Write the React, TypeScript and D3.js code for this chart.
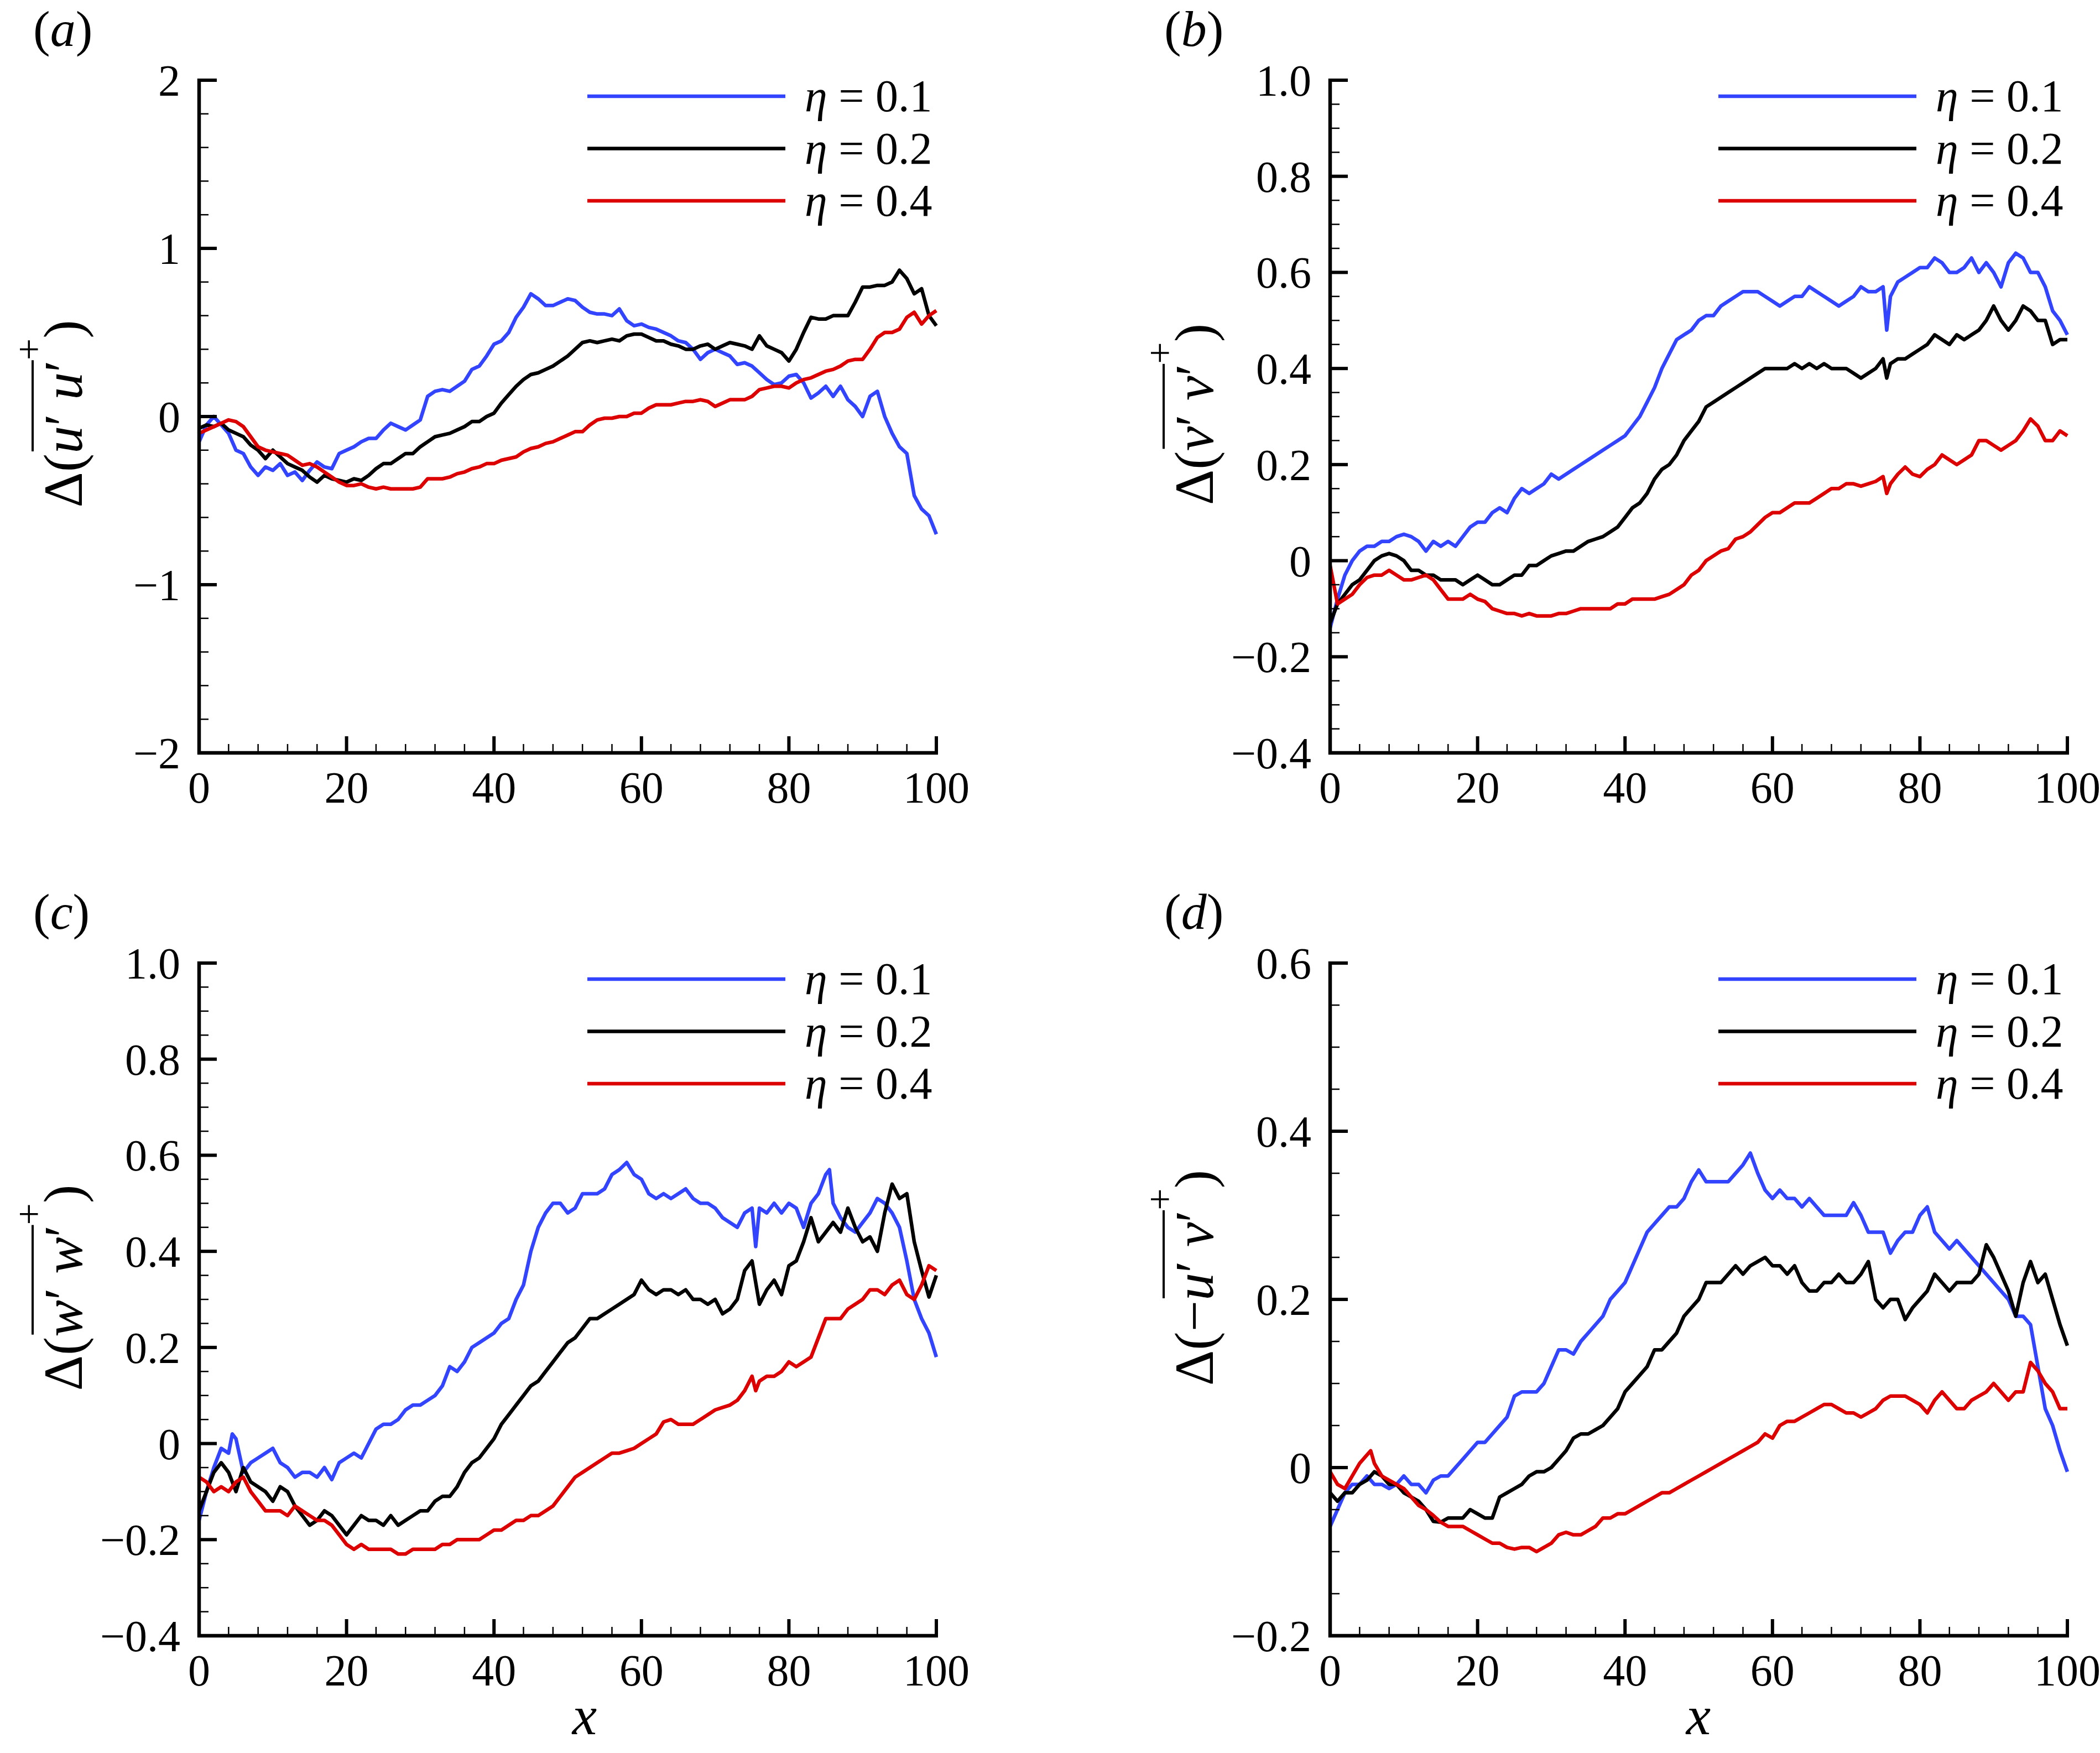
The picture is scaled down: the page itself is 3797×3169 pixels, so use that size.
import { useLayoutEffect, useRef, useState } from "react";
import * as d3 from "d3";

// streamwise positions shared by every series
const X = d3.range(0, 101);

// (a) Δ(u'u')+
const uuEta01 = [
  -0.15, -0.05, 0.0, -0.05, -0.1, -0.2, -0.22, -0.3, -0.35, -0.3,
  -0.32, -0.28, -0.35, -0.33, -0.38, -0.32, -0.27, -0.3, -0.31, -0.22,
  -0.2, -0.18, -0.15, -0.13, -0.13, -0.08, -0.04, -0.06, -0.08, -0.05,
  -0.02, 0.12, 0.15, 0.16, 0.15, 0.18, 0.21, 0.28, 0.3, 0.36,
  0.43, 0.45, 0.5, 0.59, 0.65, 0.73, 0.7, 0.66, 0.66, 0.68,
  0.7, 0.69, 0.65, 0.62, 0.61, 0.61, 0.6, 0.64, 0.57, 0.54,
  0.55, 0.53, 0.52, 0.5, 0.48, 0.45, 0.44, 0.4, 0.34, 0.38,
  0.4, 0.38, 0.36, 0.31, 0.32, 0.3, 0.26, 0.22, 0.19, 0.2,
  0.24, 0.25, 0.2, 0.11, 0.14, 0.18, 0.12, 0.18, 0.1, 0.06,
  0.0, 0.12, 0.15, 0.0, -0.1, -0.18, -0.22, -0.47, -0.55, -0.59,
  -0.7,
];
const uuEta02 = [
  -0.07, -0.05, -0.06, -0.04, -0.08, -0.1, -0.12, -0.17, -0.2, -0.25,
  -0.2, -0.24, -0.28, -0.3, -0.32, -0.36, -0.39, -0.35, -0.37, -0.38,
  -0.39, -0.37, -0.38, -0.35, -0.31, -0.28, -0.28, -0.25, -0.22, -0.22,
  -0.18, -0.15, -0.12, -0.11, -0.1, -0.08, -0.06, -0.03, -0.03, 0.0,
  0.02, 0.08, 0.13, 0.18, 0.22, 0.25, 0.26, 0.28, 0.3, 0.33,
  0.36, 0.4, 0.44, 0.45, 0.44, 0.45, 0.46, 0.45, 0.48, 0.49,
  0.49, 0.47, 0.45, 0.45, 0.43, 0.42, 0.4, 0.4, 0.42, 0.43,
  0.4, 0.42, 0.44, 0.43, 0.42, 0.4, 0.48, 0.42, 0.4, 0.38,
  0.33, 0.4, 0.5, 0.59, 0.58, 0.58, 0.6, 0.6, 0.6, 0.68,
  0.77, 0.77, 0.78, 0.78, 0.8, 0.87, 0.82, 0.73, 0.76, 0.6,
  0.54,
];
const uuEta04 = [
  -0.1, -0.08, -0.06, -0.04, -0.02, -0.03, -0.06, -0.12, -0.18, -0.2,
  -0.21, -0.22, -0.23, -0.26, -0.29, -0.28, -0.3, -0.33, -0.36, -0.39,
  -0.41, -0.41, -0.4, -0.42, -0.43, -0.42, -0.43, -0.43, -0.43, -0.43,
  -0.42, -0.37, -0.37, -0.37, -0.36, -0.34, -0.33, -0.31, -0.3, -0.28,
  -0.28, -0.26, -0.25, -0.24, -0.21, -0.19, -0.18, -0.16, -0.15, -0.13,
  -0.11, -0.09, -0.09, -0.05, -0.02, -0.01, -0.01, 0.0, 0.0, 0.02,
  0.02, 0.05, 0.07, 0.07, 0.07, 0.08, 0.09, 0.09, 0.1, 0.09,
  0.06, 0.08, 0.1, 0.1, 0.1, 0.12, 0.16, 0.17, 0.18, 0.18,
  0.17, 0.2, 0.22, 0.23, 0.25, 0.27, 0.28, 0.3, 0.33, 0.34,
  0.34, 0.4, 0.47, 0.5, 0.5, 0.52, 0.59, 0.62, 0.55, 0.6,
  0.63,
];

// (b) Δ(v'v')+
const vvEta01 = [
  -0.14, -0.08, -0.03, 0.0, 0.02, 0.03, 0.03, 0.04, 0.04, 0.05,
  0.055, 0.05, 0.04, 0.02, 0.04, 0.03, 0.04, 0.03, 0.05, 0.07,
  0.08, 0.08, 0.1, 0.11, 0.1, 0.13, 0.15, 0.14, 0.15, 0.16,
  0.18, 0.17, 0.18, 0.19, 0.2, 0.21, 0.22, 0.23, 0.24, 0.25,
  0.26, 0.28, 0.3, 0.33, 0.36, 0.4, 0.43, 0.46, 0.47, 0.48,
  0.5, 0.51, 0.51, 0.53, 0.54, 0.55, 0.56, 0.56, 0.56, 0.55,
  0.54, 0.53, 0.54, 0.55, 0.55, 0.57, 0.56, 0.55, 0.54, 0.53,
  0.54, 0.55, 0.57, 0.56, 0.56, 0.57, 0.55, 0.58, 0.59, 0.6,
  0.61, 0.61, 0.63, 0.62, 0.6, 0.6, 0.61, 0.63, 0.6, 0.62,
  0.6, 0.57, 0.62, 0.64, 0.63, 0.6, 0.6, 0.57, 0.52, 0.5,
  0.47,
];
const vvEta02 = [
  -0.13, -0.09, -0.07, -0.05, -0.04, -0.02, 0.0, 0.01, 0.015, 0.01,
  0.0, -0.02, -0.02, -0.03, -0.03, -0.04, -0.04, -0.04, -0.05, -0.04,
  -0.03, -0.04, -0.05, -0.05, -0.04, -0.03, -0.03, -0.01, -0.01, 0.0,
  0.01, 0.015, 0.02, 0.02, 0.03, 0.04, 0.045, 0.05, 0.06, 0.07,
  0.09, 0.11, 0.12, 0.14, 0.17, 0.19, 0.2, 0.22, 0.25, 0.27,
  0.29, 0.32, 0.33, 0.34, 0.35, 0.36, 0.37, 0.38, 0.39, 0.4,
  0.4, 0.4, 0.4, 0.41, 0.4, 0.41, 0.4, 0.41, 0.4, 0.4,
  0.4, 0.39, 0.38, 0.39, 0.4, 0.42, 0.41, 0.42, 0.42, 0.43,
  0.44, 0.45, 0.47, 0.46, 0.45, 0.47, 0.46, 0.47, 0.48, 0.5,
  0.53, 0.5, 0.48, 0.5, 0.53, 0.52, 0.5, 0.5, 0.45, 0.46,
  0.46,
];
const vvEta04 = [
  -0.01, -0.09, -0.08, -0.07, -0.05, -0.035, -0.03, -0.03, -0.02, -0.03,
  -0.04, -0.04, -0.035, -0.03, -0.04, -0.06, -0.08, -0.08, -0.08, -0.07,
  -0.08, -0.085, -0.1, -0.105, -0.11, -0.11, -0.115, -0.11, -0.115, -0.115,
  -0.115, -0.11, -0.11, -0.105, -0.1, -0.1, -0.1, -0.1, -0.1, -0.09,
  -0.09, -0.08, -0.08, -0.08, -0.08, -0.075, -0.07, -0.06, -0.05, -0.03,
  -0.02, 0.0, 0.01, 0.02, 0.025, 0.045, 0.05, 0.06, 0.075, 0.09,
  0.1, 0.1, 0.11, 0.12, 0.12, 0.12, 0.13, 0.14, 0.15, 0.15,
  0.16, 0.16, 0.155, 0.16, 0.165, 0.175, 0.16, 0.18, 0.195, 0.18,
  0.175, 0.19, 0.2, 0.22, 0.21, 0.2, 0.21, 0.22, 0.25, 0.25,
  0.24, 0.23, 0.24, 0.25, 0.27, 0.295, 0.28, 0.25, 0.25, 0.27,
  0.26,
];

// (c) Δ(w'w')+
const wwEta01 = [
  -0.16, -0.1, -0.05, -0.01, -0.02, 0.01, -0.06, -0.04, -0.03, -0.02,
  -0.01, -0.04, -0.05, -0.07, -0.06, -0.06, -0.07, -0.05, -0.075, -0.04,
  -0.03, -0.02, -0.03, 0.0, 0.03, 0.04, 0.04, 0.05, 0.07, 0.08,
  0.08, 0.09, 0.1, 0.12, 0.16, 0.15, 0.17, 0.2, 0.21, 0.22,
  0.23, 0.25, 0.26, 0.3, 0.33, 0.4, 0.45, 0.48, 0.5, 0.5,
  0.48, 0.49, 0.52, 0.52, 0.52, 0.53, 0.56, 0.57, 0.585, 0.56,
  0.55, 0.52, 0.51, 0.52, 0.51, 0.52, 0.53, 0.51, 0.5, 0.5,
  0.49, 0.47, 0.46, 0.45, 0.48, 0.49, 0.49, 0.48, 0.5, 0.48,
  0.5, 0.49, 0.45, 0.5, 0.52, 0.56, 0.5, 0.47, 0.45, 0.44,
  0.46, 0.48, 0.51, 0.5, 0.48, 0.45, 0.38, 0.3, 0.26, 0.23,
  0.18,
];
const wwEta02 = [
  -0.14, -0.1, -0.06, -0.04, -0.06, -0.1, -0.05, -0.08, -0.09, -0.1,
  -0.12, -0.09, -0.1, -0.13, -0.15, -0.17, -0.16, -0.14, -0.15, -0.17,
  -0.19, -0.17, -0.15, -0.16, -0.16, -0.17, -0.15, -0.17, -0.16, -0.15,
  -0.14, -0.14, -0.12, -0.11, -0.11, -0.09, -0.06, -0.04, -0.03, -0.01,
  0.01, 0.04, 0.06, 0.08, 0.1, 0.12, 0.13, 0.15, 0.17, 0.19,
  0.21, 0.22, 0.24, 0.26, 0.26, 0.27, 0.28, 0.29, 0.3, 0.31,
  0.34, 0.32, 0.31, 0.32, 0.32, 0.31, 0.32, 0.3, 0.3, 0.29,
  0.3, 0.27, 0.28, 0.3, 0.36, 0.38, 0.29, 0.32, 0.34, 0.31,
  0.37, 0.38, 0.42, 0.47, 0.42, 0.44, 0.46, 0.44, 0.49, 0.45,
  0.42, 0.43, 0.4, 0.48, 0.54, 0.51, 0.52, 0.42, 0.36, 0.305,
  0.35,
];
const wwEta04 = [
  -0.07, -0.08, -0.1, -0.09, -0.1, -0.08, -0.07, -0.1, -0.12, -0.14,
  -0.14, -0.14, -0.15, -0.13, -0.14, -0.15, -0.16, -0.16, -0.17, -0.19,
  -0.21, -0.22, -0.21, -0.22, -0.22, -0.22, -0.22, -0.23, -0.23, -0.22,
  -0.22, -0.22, -0.22, -0.21, -0.21, -0.2, -0.2, -0.2, -0.2, -0.19,
  -0.18, -0.18, -0.17, -0.16, -0.16, -0.15, -0.15, -0.14, -0.13, -0.11,
  -0.09, -0.07, -0.06, -0.05, -0.04, -0.03, -0.02, -0.02, -0.015, -0.01,
  0.0, 0.01, 0.02, 0.045, 0.05, 0.04, 0.04, 0.04, 0.05, 0.06,
  0.07, 0.075, 0.08, 0.09, 0.11, 0.14, 0.13, 0.14, 0.14, 0.15,
  0.17, 0.16, 0.17, 0.18, 0.22, 0.26, 0.26, 0.26, 0.28, 0.29,
  0.3, 0.32, 0.32, 0.31, 0.33, 0.34, 0.31, 0.3, 0.33, 0.37,
  0.36,
];

// (d) Δ(-u'v')+
const uvEta01 = [
  -0.07, -0.05, -0.03, -0.02, -0.02, -0.01, -0.02, -0.02, -0.025, -0.02,
  -0.01, -0.02, -0.02, -0.03, -0.015, -0.01, -0.01, 0.0, 0.01, 0.02,
  0.03, 0.03, 0.04, 0.05, 0.06, 0.085, 0.09, 0.09, 0.09, 0.1,
  0.12, 0.14, 0.14, 0.135, 0.15, 0.16, 0.17, 0.18, 0.2, 0.21,
  0.22, 0.24, 0.26, 0.28, 0.29, 0.3, 0.31, 0.31, 0.32, 0.34,
  0.354, 0.34, 0.34, 0.34, 0.34, 0.35, 0.36, 0.374, 0.35, 0.33,
  0.32, 0.33, 0.32, 0.32, 0.31, 0.32, 0.31, 0.3, 0.3, 0.3,
  0.3, 0.315, 0.3, 0.28, 0.28, 0.28, 0.255, 0.27, 0.28, 0.28,
  0.3, 0.31, 0.28, 0.27, 0.26, 0.27, 0.26, 0.25, 0.24, 0.23,
  0.22, 0.21, 0.2, 0.18, 0.18, 0.17, 0.12, 0.07, 0.05, 0.02,
  -0.005,
];
const uvEta02 = [
  -0.03, -0.04, -0.03, -0.03, -0.02, -0.015, -0.005, -0.01, -0.02, -0.02,
  -0.03, -0.035, -0.04, -0.05, -0.064, -0.065, -0.06, -0.06, -0.06, -0.05,
  -0.055, -0.06, -0.06, -0.035, -0.03, -0.025, -0.02, -0.01, -0.005, -0.005,
  0.0, 0.01, 0.02, 0.035, 0.04, 0.04, 0.045, 0.05, 0.06, 0.07,
  0.09, 0.1, 0.11, 0.12, 0.14, 0.14, 0.15, 0.16, 0.18, 0.19,
  0.2, 0.22, 0.22, 0.22, 0.23, 0.24, 0.23, 0.24, 0.245, 0.25,
  0.24, 0.24, 0.23, 0.24, 0.22, 0.21, 0.21, 0.22, 0.22, 0.23,
  0.22, 0.22, 0.23, 0.245, 0.2, 0.19, 0.2, 0.2, 0.176, 0.19,
  0.2, 0.21, 0.23, 0.22, 0.21, 0.22, 0.22, 0.22, 0.23, 0.265,
  0.25, 0.23, 0.21, 0.18, 0.22, 0.245, 0.22, 0.23, 0.2, 0.17,
  0.145,
];
const uvEta04 = [
  -0.005, -0.02, -0.025, -0.01, 0.005, 0.015, 0.005, -0.01, -0.015, -0.02,
  -0.025, -0.035, -0.045, -0.05, -0.057, -0.065, -0.07, -0.07, -0.07, -0.075,
  -0.08, -0.085, -0.09, -0.09, -0.095, -0.097, -0.095, -0.095, -0.1, -0.095,
  -0.09, -0.08, -0.077, -0.08, -0.08, -0.075, -0.07, -0.06, -0.06, -0.055,
  -0.055, -0.05, -0.045, -0.04, -0.035, -0.03, -0.03, -0.025, -0.02, -0.015,
  -0.01, -0.005, 0.0, 0.005, 0.01, 0.015, 0.02, 0.025, 0.03, 0.04,
  0.035, 0.05, 0.055, 0.055, 0.06, 0.065, 0.07, 0.075, 0.075, 0.07,
  0.065, 0.065, 0.06, 0.065, 0.07, 0.08, 0.085, 0.085, 0.085, 0.08,
  0.075, 0.065, 0.08, 0.09, 0.08, 0.07, 0.07, 0.08, 0.085, 0.09,
  0.1, 0.09, 0.08, 0.09, 0.09, 0.125, 0.115, 0.1, 0.09, 0.07,
  0.07,
];

// narrow spikes that fall between the integer stations
const vvSpike01: [number, number][] = [[75.5, 0.48]];
const vvSpike02: [number, number][] = [[75.5, 0.38]];
const vvSpike04: [number, number][] = [[75.5, 0.14]];
const wwSpike01: [number, number][] = [[4.5, 0.02], [75.5, 0.41], [85.5, 0.57]];
const wwSpike04: [number, number][] = [[75.5, 0.11]];
const uvSpike04: [number, number][] = [[5.5, 0.02]];

const legendLabels = ["0.1", "0.2", "0.4"];
const xTicks = [0, 20, 40, 60, 80, 100];

const COLORS = ["#3344ff", "#000000", "#dd0000"];
const FONT = "'Liberation Serif', 'Times New Roman', serif";

const W = 1333;
const H = 1216;

function merge(vals: number[], extra: [number, number][] = []) {
  const pts: [number, number][] = X.map((xv, i) => [xv, vals[i]] as [number, number]);
  return pts.concat(extra).sort((a, b) => a[0] - b[0]);
}

function steps(lo: number, hi: number, step: number) {
  const n = Math.round((hi - lo) / step);
  return d3.range(n + 1).map((i) => +(lo + i * step).toFixed(6));
}

// rotated y title; the bar over the fluctuation product is measured after layout
function YTitle({ tx, ty, sym, neg }: { tx: number; ty: number; sym: [string, string]; neg?: boolean }) {
  const ref = useRef<SVGTextElement>(null);
  const [bar, setBar] = useState<[number, number] | null>(null);
  const start = neg ? 3 : 2;

  useLayoutEffect(() => {
    const t = ref.current;
    if (!t) return;
    try {
      const a = t.getStartPositionOfChar(start).x;
      const b = t.getEndPositionOfChar(start + 4).x;
      setBar([a + 4, b]);
    } catch (e) {
      setBar(null);
    }
  }, []);

  return (
    <g transform={`translate(${tx},${ty}) rotate(-90)`}>
      <text ref={ref} x={0} y={0} fontSize={100} fontFamily={FONT} textAnchor="middle">
        <tspan>Δ({neg ? "−" : ""}</tspan>
        <tspan fontStyle="italic">{sym[0]}</tspan>
        <tspan>′ </tspan>
        <tspan fontStyle="italic">{sym[1]}</tspan>
        <tspan>′</tspan>
        <tspan dy={-72} fontSize={70}>+</tspan>
        <tspan dy={72}>)</tspan>
      </text>
      {bar && <line x1={bar[0]} x2={bar[1]} y1={-89} y2={-89} stroke="#000" strokeWidth={4} />}
    </g>
  );
}

function Panel(props: any) {
  const { left, top, tag, domain, major, minor, fmt, series, sym, neg, labelY, xLabelX } = props;
  const x = d3.scaleLinear().domain([0, 100]).range([left, left + W]);
  const y = d3.scaleLinear().domain(domain).range([top + H, top]);
  const line = d3
    .line<[number, number]>()
    .x((d) => x(d[0]))
    .y((d) => y(d[1]));

  const yMajor = steps(domain[0], domain[1], major);
  const yMinor = steps(domain[0], domain[1], minor).filter(
    (v) => !yMajor.some((m) => Math.abs(m - v) < 1e-6)
  );
  const xMinor = steps(0, 100, 4).filter((v) => v % 20 !== 0);
  const bottom = top + H;

  return (
    <g>
      <text x={left - 300} y={top - 62} fontSize={92} fontFamily={FONT}>
        (<tspan fontStyle="italic">{tag}</tspan>)
      </text>

      {series.map((pts: [number, number][], i: number) => (
        <path
          key={i}
          d={line(pts) ?? ""}
          fill="none"
          stroke={COLORS[i]}
          strokeWidth={6.5}
          strokeLinejoin="round"
        />
      ))}

      {/* minor ticks */}
      {yMinor.map((v) => (
        <line key={"ym" + v} x1={left} x2={left + 17} y1={y(v)} y2={y(v)} stroke="#000" strokeWidth={2.5} />
      ))}
      {xMinor.map((v) => (
        <line key={"xm" + v} x1={x(v)} x2={x(v)} y1={bottom} y2={bottom - 16} stroke="#000" strokeWidth={2.5} />
      ))}
      {/* major ticks */}
      {yMajor.map((v) => (
        <line key={"yM" + v} x1={left} x2={left + 32} y1={y(v)} y2={y(v)} stroke="#000" strokeWidth={6} />
      ))}
      {xTicks.map((v) => (
        <line key={"xM" + v} x1={x(v)} x2={x(v)} y1={bottom} y2={bottom - 30} stroke="#000" strokeWidth={6} />
      ))}
      {/* axis lines */}
      <line x1={left} x2={left} y1={top - 3} y2={bottom + 3} stroke="#000" strokeWidth={6.5} />
      <line x1={left - 3} x2={left + W + 3} y1={bottom} y2={bottom} stroke="#000" strokeWidth={6.5} />

      {/* tick labels */}
      {yMajor.map((v) => (
        <text key={"yl" + v} x={left - 34} y={y(v) + 28} fontSize={80} fontFamily={FONT} textAnchor="end">
          {fmt(v)}
        </text>
      ))}
      {xTicks.map((v) => (
        <text key={"xl" + v} x={x(v)} y={bottom + 90} fontSize={80} fontFamily={FONT} textAnchor="middle">
          {v}
        </text>
      ))}

      <YTitle tx={left - 212} ty={labelY} sym={sym} neg={neg} />

      {xLabelX != null && (
        <text x={xLabelX} y={3135} fontSize={100} fontFamily={FONT} fontStyle="italic" textAnchor="middle">
          x
        </text>
      )}

      {/* legend */}
      {legendLabels.map((lab, i) => {
        const ly = top + 29 + i * 94.5;
        return (
          <g key={lab}>
            <line x1={left + 702} x2={left + 1060} y1={ly} y2={ly} stroke={COLORS[i]} strokeWidth={6.5} />
            <text x={left + 1095} y={ly + 27} fontSize={82} fontFamily={FONT}>
              <tspan fontStyle="italic">η</tspan> = {lab}
            </text>
          </g>
        );
      })}
    </g>
  );
}

const fmtInt = (v: number) => (v === 0 ? "0" : d3.format("d")(v));
const fmtDec = (v: number) => (v === 0 ? "0" : d3.format(".1f")(v));

export default function App() {
  const panels = [
    {
      left: 360, top: 145, tag: "a", domain: [-2, 2], major: 1, minor: 0.2, fmt: fmtInt,
      series: [merge(uuEta01), merge(uuEta02), merge(uuEta04)],
      sym: ["u", "u"], neg: false, labelY: 748, xLabelX: null,
    },
    {
      left: 2405, top: 145, tag: "b", domain: [-0.4, 1.0], major: 0.2, minor: 0.05, fmt: fmtDec,
      series: [merge(vvEta01, vvSpike01), merge(vvEta02, vvSpike02), merge(vvEta04, vvSpike04)],
      sym: ["v", "v"], neg: false, labelY: 749, xLabelX: null,
    },
    {
      left: 360, top: 1741, tag: "c", domain: [-0.4, 1.0], major: 0.2, minor: 0.05, fmt: fmtDec,
      series: [merge(wwEta01, wwSpike01), merge(wwEta02), merge(wwEta04, wwSpike04)],
      sym: ["w", "w"], neg: false, labelY: 2328, xLabelX: 1057,
    },
    {
      left: 2405, top: 1741, tag: "d", domain: [-0.2, 0.6], major: 0.2, minor: 0.05, fmt: fmtDec,
      series: [merge(uvEta01), merge(uvEta02), merge(uvEta04, uvSpike04)],
      sym: ["u", "v"], neg: true, labelY: 2310, xLabelX: 3071,
    },
  ];

  return (
    <svg
      width={3797}
      height={3169}
      style={{ position: "absolute", left: 0, top: 0, display: "block", background: "#fff" }}
    >
      <rect width={3797} height={3169} fill="#fff" />
      {panels.map((p) => (
        <Panel key={p.tag} {...p} />
      ))}
    </svg>
  );
}
